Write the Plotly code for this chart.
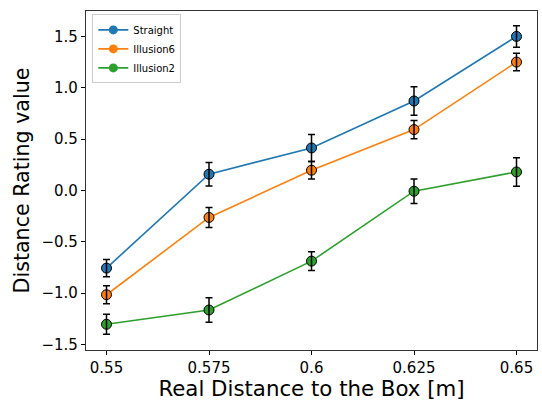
import plotly.graph_objects as go

x_vals = [0.55, 0.575, 0.6, 0.625, 0.65]
x_labels = ["0.55", "0.575", "0.6", "0.625", "0.65"]

straight = [-0.757, 0.159, 0.415, 0.873, 1.503]
straight_err = [0.085, 0.114, 0.131, 0.138, 0.105]
illusion6 = [-1.017, -0.263, 0.198, 0.594, 1.253]
illusion6_err = [0.088, 0.097, 0.085, 0.089, 0.085]
illusion2 = [-1.305, -1.166, -0.689, -0.007, 0.181]
illusion2_err = [0.097, 0.120, 0.091, 0.120, 0.139]

series = [
    ("Straight", straight, straight_err, "#1f77b4"),
    ("Illusion6", illusion6, illusion6_err, "#ff7f0e"),
    ("Illusion2", illusion2, illusion2_err, "#2ca02c"),
]

y_ticks = [-1.5, -1.0, -0.5, 0.0, 0.5, 1.0, 1.5]

fig = go.Figure()
for name, ys, errs, col in series:
    fig.add_trace(go.Scatter(
        x=x_vals, y=ys, name=name, mode="lines+markers", showlegend=False,
        line=dict(color=col, width=1.6),
        marker=dict(color=col, size=10, line=dict(color="black", width=1)),
    ))
for name, ys, errs, col in series:
    fig.add_trace(go.Scatter(
        x=x_vals, y=ys, mode="markers", showlegend=False, hoverinfo="skip",
        marker=dict(color="rgba(0,0,0,0)", size=1),
        error_y=dict(type="data", array=errs, visible=True, color="black",
                     thickness=1.5, width=3.5),
    ))
# legend entries (matplotlib legend markers without edge)
for name, ys, errs, col in series:
    fig.add_trace(go.Scatter(
        x=[None], y=[None], name=name, mode="lines+markers",
        line=dict(color=col, width=1.6),
        marker=dict(color=col, size=9, line=dict(width=0)),
    ))

fnt = "DejaVu Sans"
fig.update_layout(
    width=542, height=401,
    margin=dict(l=85.5, r=4.5, t=10.5, b=51),
    plot_bgcolor="white", paper_bgcolor="white",
    font=dict(family=fnt, color="black"),
    showlegend=True,
    legend=dict(
        x=0.014, y=0.99, xanchor="left", yanchor="top",
        bgcolor="rgba(255,255,255,0.8)", bordercolor="#cccccc", borderwidth=1,
        font=dict(family="DejaVu Sans", size=10),
        tracegroupgap=0, itemwidth=30,
    ),
    xaxis=dict(
        range=[0.545, 0.655], tickmode="array", tickvals=x_vals, ticktext=x_labels,
        showgrid=False, zeroline=False, showline=True, mirror=True,
        linecolor="#333", linewidth=1.2, ticks="outside", ticklen=4,
        tickcolor="black", tickfont=dict(size=15, family=fnt),
        title=dict(text="Real Distance to the Box [m]", font=dict(size=21.3, family=fnt), standoff=0),
    ),
    yaxis=dict(
        range=[-1.556, 1.751], tickmode="array", tickvals=y_ticks,
        tickformat=".1f",
        showgrid=False, zeroline=False, showline=True, mirror=True,
        linecolor="#333", linewidth=1.2, ticks="outside", ticklen=4,
        tickcolor="black", tickfont=dict(size=15, family=fnt),
        title=dict(text="Distance Rating value", font=dict(size=20.6, family=fnt), standoff=6),
    ),
)

fig.write_html("out.html")
